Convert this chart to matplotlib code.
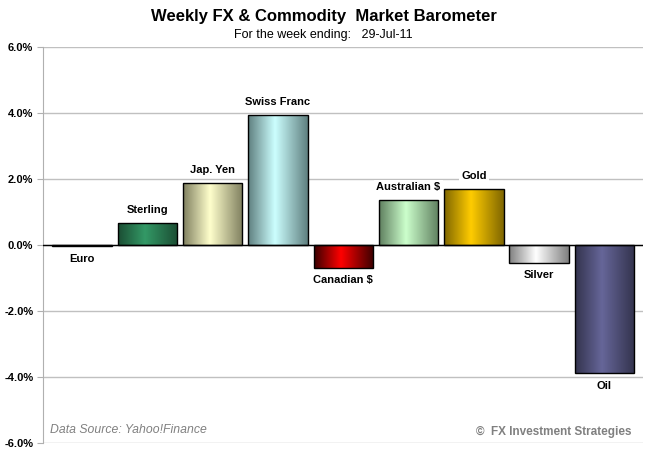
import numpy as np
import matplotlib.pyplot as plt
from matplotlib.colors import LinearSegmentedColormap
from matplotlib.ticker import FuncFormatter

plt.rcParams['font.family'] = ['Liberation Sans', 'DejaVu Sans']

names = ["Euro", "Sterling", "Jap. Yen", "Swiss Franc", "Canadian $",
         "Australian $", "Gold", "Silver", "Oil"]
values = [-0.03, 0.66, 1.87, 3.94, -0.69, 1.35, 1.69, -0.54, -3.89]
edge_cols = ["#000000", "#1b4d33", "#7f7f5f", "#5f7f7f", "#3a0000",
             "#5f7f5f", "#7f6600", "#7f7f7f", "#33334d"]
mid_cols = ["#000000", "#339966", "#ffffcc", "#ccffff", "#ff0000",
            "#ccffcc", "#ffcc00", "#ffffff", "#666699"]
yticks = [-6, -4, -2, 0, 2, 4, 6]

fig = plt.figure(figsize=(6.47, 4.58), dpi=100)
ax = fig.add_axes([43 / 647, 15 / 458, 600 / 647, 396 / 458])

x = np.arange(len(names))
width = 0.91
bars = ax.bar(x, values, width=width, facecolor="none", edgecolor="black",
              linewidth=1.0, zorder=3)

# horizontal gradient inside each bar: dark edges, light middle
grad = np.linspace(0, 1, 256).reshape(1, -1)
for b, c0, c1 in zip(bars, edge_cols, mid_cols):
    cmap = LinearSegmentedColormap.from_list("g", [(0, c0), (0.45, c1), (1, c0)])
    x0, y0 = b.get_x(), b.get_y()
    im = ax.imshow(grad, cmap=cmap, aspect="auto", zorder=2,
                   extent=[x0, x0 + b.get_width(), y0, y0 + b.get_height()])
    im.set_clip_path(b)

for xi, v, n in zip(x, values, names):
    if v >= 0:
        ax.text(xi, v + 0.4, n, ha="center", va="center", fontsize=8,
                fontweight="bold", zorder=4,
                bbox=dict(facecolor="white", edgecolor="none", pad=1.5))
    else:
        ax.text(xi, v - 0.38, n, ha="center", va="center", fontsize=8,
                fontweight="bold", zorder=4,
                bbox=dict(facecolor="white", edgecolor="none", pad=1.5))

ax.set_xlim(-0.597, 8.59)
ax.set_ylim(-6, 6)
ax.set_yticks(yticks)
ax.yaxis.set_major_formatter(FuncFormatter(lambda v, p: f"{v:.1f}%"))
ax.set_xticks([])
ax.grid(axis="y", color="#c0c0c0", linewidth=1.0, zorder=0)
ax.axhline(0, color="black", linewidth=1.0, zorder=3)
for s in ["top", "right", "bottom"]:
    ax.spines[s].set_visible(False)
ax.spines["left"].set_color("#b0b0b0")
ax.tick_params(axis="y", length=4, color="#b0b0b0", pad=3, labelsize=8)
for lab in ax.get_yticklabels():
    lab.set_fontweight("bold")

fig.text(0.5, 1 - 17 / 458, "Weekly FX & Commodity  Market Barometer",
         ha="center", va="center", fontsize=12, fontweight="bold")
fig.text(0.5, 1 - 35 / 458, "For the week ending:   29-Jul-11",
         ha="center", va="center", fontsize=9)
fig.text(50 / 647, 1 - 430 / 458, "Data Source: Yahoo!Finance",
         ha="left", va="center", fontsize=8.8, style="italic", color="#808080")
fig.text(632 / 647, 1 - 432 / 458, "\u00a9  FX Investment Strategies",
         ha="right", va="center", fontsize=8.5, fontweight="bold", color="#808080")

fig.savefig("out.png", dpi=100)
